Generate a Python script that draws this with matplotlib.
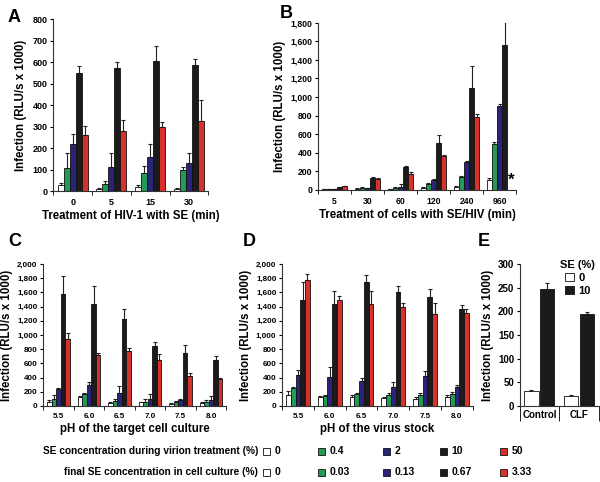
import numpy as np
import matplotlib
matplotlib.use("Agg")
import matplotlib.pyplot as plt
from matplotlib.patches import Rectangle, Patch
from matplotlib.ticker import FuncFormatter

plt.rcParams["font.family"] = ["Liberation Sans", "DejaVu Sans"]
plt.rcParams["font.weight"] = "bold"
plt.rcParams["axes.labelweight"] = "bold"

COLORS = ["#ffffff", "#239a55", "#2a2478", "#1c1a1a", "#d8302a"]

# Panel A: treatment of HIV-1 with SE (min)
a_groups = ["0", "5", "15", "30"]
a_vals = [[30, 110, 220, 548, 262],
          [12, 35, 113, 575, 282],
          [20, 87, 160, 605, 297],
          [12, 97, 130, 587, 327]]
a_errs = [[10, 70, 45, 33, 43],
          [4, 15, 65, 25, 48],
          [10, 30, 62, 70, 27],
          [5, 18, 50, 30, 100]]

# Panel B: treatment of cells with SE/HIV (min); 960 red missing (*)
b_groups = ["5", "30", "60", "120", "240", "960"]
b_vals = [[5, 5, 5, 30, 38],
          [15, 25, 20, 132, 120],
          [10, 25, 35, 245, 175],
          [25, 60, 105, 505, 360],
          [30, 140, 300, 1100, 785],
          [108, 490, 905, 1560, 0]]
b_errs = [[3, 3, 3, 6, 6],
          [4, 8, 4, 8, 10],
          [4, 6, 25, 8, 15],
          [5, 10, 10, 90, 20],
          [12, 15, 15, 235, 30],
          [15, 25, 18, 250, 0]]

# Panel C: pH of the target cell culture
c_groups = ["5.5", "6.0", "6.5", "7.0", "7.5", "8.0"]
c_vals = [[50, 100, 240, 1580, 940],
          [120, 170, 300, 1440, 720],
          [40, 70, 180, 1220, 780],
          [50, 60, 100, 850, 650],
          [30, 50, 80, 750, 420],
          [40, 50, 80, 640, 380]]
c_errs = [[30, 60, 10, 250, 90],
          [20, 15, 40, 250, 20],
          [10, 20, 100, 140, 40],
          [10, 30, 70, 50, 80],
          [10, 15, 20, 110, 50],
          [10, 30, 60, 60, 10]]

# Panel D: pH of the virus stock
d_groups = ["5.5", "6.0", "6.5", "7.0", "7.5", "8.0"]
d_vals = [[160, 250, 440, 1500, 1770],
          [130, 140, 410, 1440, 1490],
          [120, 170, 350, 1750, 1440],
          [110, 150, 270, 1610, 1390],
          [100, 160, 420, 1530, 1300],
          [120, 170, 260, 1360, 1310]]
d_errs = [[50, 20, 70, 250, 90],
          [15, 10, 140, 180, 60],
          [40, 10, 40, 100, 180],
          [10, 30, 70, 80, 60],
          [20, 20, 70, 120, 150],
          [30, 30, 40, 60, 50]]

# Panel E
e_groups = ["Control", "CLF"]
e_vals = [[32, 247], [21, 194]]
e_errs = [[2, 14], [2, 4]]

leg_row1 = ["0", "0.4", "2", "10", "50"]
leg_row2 = ["0", "0.03", "0.13", "0.67", "3.33"]

fig = plt.figure(figsize=(6.0, 4.82), dpi=100, facecolor="white")


def grouped(ax, groups, vals, errs, colors, width=0.15, offsets=None, skip_zero=False):
    vals = np.array(vals, float)
    errs = np.array(errs, float)
    n, k = vals.shape
    x = np.arange(n)
    if offsets is None:
        offsets = (np.arange(k) - (k - 1) / 2) * width
    for j in range(k):
        v = vals[:, j]
        e = errs[:, j]
        mask = v > 0 if skip_zero else np.ones(n, bool)
        ax.bar(x[mask] + offsets[j], v[mask], width, color=colors[j],
               edgecolor="#111111", linewidth=0.6, zorder=2)
        ax.errorbar(x[mask] + offsets[j], v[mask],
                    yerr=[np.zeros(mask.sum()), e[mask]], fmt="none",
                    ecolor="#222222", elinewidth=0.8, capsize=1.6, capthick=0.8, zorder=1)
    ax.set_xlim(-0.5, n - 0.5)
    ax.set_xticks(x)
    ax.set_xticklabels(groups)
    ax.set_xticks(np.arange(n + 1) - 0.5, minor=True)
    ax.tick_params(axis="x", which="major", length=0, pad=5)
    ax.tick_params(axis="x", which="minor", length=3, direction="out")
    ax.tick_params(axis="y", length=2.5, direction="out", pad=1.5)
    for s in ["top", "right"]:
        ax.spines[s].set_visible(False)
    for s in ["left", "bottom"]:
        ax.spines[s].set_linewidth(0.8)
        ax.spines[s].set_color("#333333")
    return offsets


comma = FuncFormatter(lambda v, p: f"{int(v):,}")
LAB = 8.3

# A
axA = fig.add_axes([0.089, 0.603, 0.258, 0.357])
grouped(axA, a_groups, a_vals, a_errs, COLORS, width=0.155)
axA.set_ylim(0, 800)
axA.set_yticks(range(0, 801, 100))
axA.tick_params(labelsize=6.5)
axA.set_ylabel("Infection (RLU/s x 1000)", fontsize=LAB, labelpad=4)
axA.set_xlabel("Treatment of HIV-1 with SE (min)", fontsize=LAB, labelpad=2)
fig.text(0.013, 0.955, "A", fontsize=13, fontweight="bold")

# B
axB = fig.add_axes([0.530, 0.606, 0.330, 0.347])
offB = grouped(axB, b_groups, b_vals, b_errs, COLORS, width=0.155, skip_zero=True)
axB.set_ylim(0, 1800)
axB.set_yticks(range(0, 1801, 200))
axB.yaxis.set_major_formatter(comma)
axB.tick_params(labelsize=6.2)
axB.set_ylabel("Infection (RLU/s x 1000)", fontsize=LAB, labelpad=3)
axB.set_xlabel("Treatment of cells with SE/HIV (min)", fontsize=LAB, labelpad=2)
axB.text(5 + offB[4] + 0.05, 20, "*", fontsize=12, ha="center", va="bottom")
fig.text(0.466, 0.963, "B", fontsize=13, fontweight="bold")

# C
axC = fig.add_axes([0.072, 0.158, 0.305, 0.294])
grouped(axC, c_groups, c_vals, c_errs, COLORS, width=0.15)
axC.set_ylim(0, 2000)
axC.set_yticks(range(0, 2001, 200))
axC.yaxis.set_major_formatter(comma)
axC.tick_params(labelsize=5.8)
axC.set_ylabel("Infection (RLU/s x 1000)", fontsize=LAB, labelpad=3)
axC.set_xlabel("pH of the target cell culture", fontsize=LAB, labelpad=2)
fig.text(0.013, 0.49, "C", fontsize=13, fontweight="bold")

# D
axD = fig.add_axes([0.470, 0.158, 0.318, 0.294])
grouped(axD, d_groups, d_vals, d_errs, COLORS, width=0.15)
axD.set_ylim(0, 2000)
axD.set_yticks(range(0, 2001, 200))
axD.yaxis.set_major_formatter(comma)
axD.tick_params(labelsize=5.8)
axD.set_ylabel("Infection (RLU/s x 1000)", fontsize=LAB, labelpad=3)
axD.set_xlabel("pH of the virus stock", fontsize=LAB, labelpad=2)
fig.text(0.405, 0.49, "D", fontsize=13, fontweight="bold")

# E
axE = fig.add_axes([0.866, 0.158, 0.132, 0.294])
grouped(axE, e_groups, e_vals, e_errs, [COLORS[0], COLORS[3]], width=0.36,
        offsets=[-0.2, 0.2])
axE.set_ylim(0, 300)
axE.set_yticks(range(0, 301, 50))
axE.tick_params(axis="y", labelsize=7)
axE.tick_params(axis="x", which="major", labelsize=7, pad=3)
axE.tick_params(axis="x", which="minor", length=11)
axE.set_ylabel("Infection (RLU/s x 1000)", fontsize=LAB, labelpad=3)
axE.legend(handles=[Patch(facecolor=COLORS[0], edgecolor="#111111", linewidth=0.6),
                    Patch(facecolor=COLORS[3], edgecolor="#111111", linewidth=0.6)],
           labels=["0", "10"], title="SE (%)", frameon=False, fontsize=8,
           title_fontproperties={"weight": "bold", "size": 8},
           handlelength=0.8, handleheight=0.8, handletextpad=0.4,
           labelspacing=0.25, loc="upper right", bbox_to_anchor=(1.08, 1.1))
fig.text(0.797, 0.49, "E", fontsize=13, fontweight="bold")

# shared legend at the bottom
rows = [(0.064, "SE concentration during virion treatment (%)", leg_row1),
        (0.021, "final SE concentration in cell culture (%)", leg_row2)]
xs = [0.438, 0.530, 0.638, 0.733, 0.833]
for y, title, labels in rows:
    fig.text(0.430, y, title, fontsize=7.3, ha="right", va="center")
    for xpos, col, lab in zip(xs, COLORS, labels):
        fig.patches.append(Rectangle((xpos, y - 0.008), 0.012, 0.015,
                                     transform=fig.transFigure, facecolor=col,
                                     edgecolor="#111111", linewidth=0.6))
        fig.text(xpos + 0.02, y, lab, fontsize=7.5, va="center")

fig.savefig("out.png", dpi=100)
